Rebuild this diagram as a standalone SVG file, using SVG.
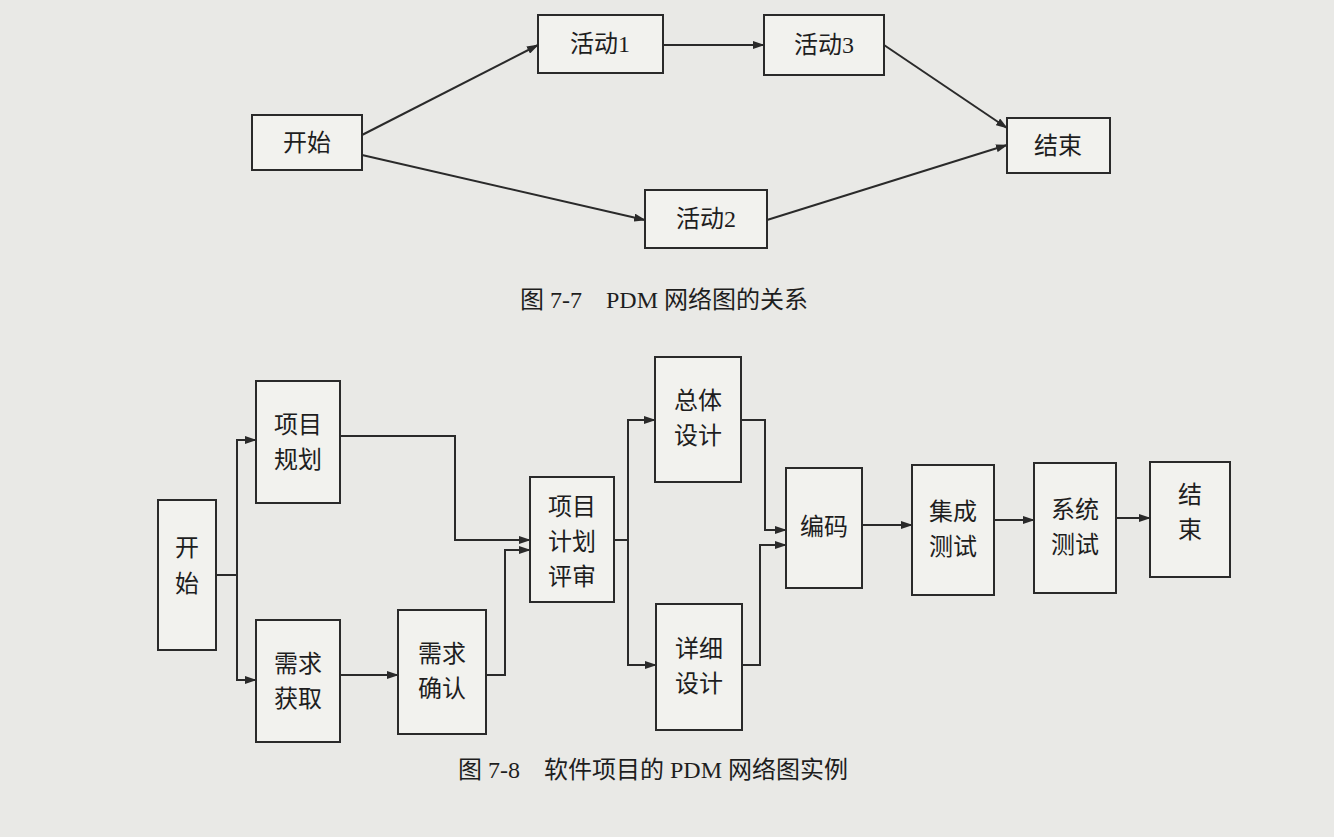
<svg xmlns="http://www.w3.org/2000/svg" width="1334" height="837" viewBox="0 0 1334 837">
<defs>
<marker id="ah" markerWidth="12" markerHeight="8" refX="11" refY="4" orient="auto" markerUnits="userSpaceOnUse"><path d="M0,0 L12,4 L0,8 z" fill="#2a2a2a"/></marker>
<style>
.n{fill:#f2f2ee;stroke:#2a2a2a;stroke-width:2}
.t{font-family:"Liberation Serif","Noto Sans CJK SC",serif;font-size:24px;fill:#1e1e1e;text-anchor:middle}
.c path{fill:none;stroke:#2a2a2a;stroke-width:2;marker-end:url(#ah)}
.cap{font-family:"Liberation Serif","Noto Sans CJK SC",serif;font-size:24px;fill:#1e1e1e}
</style>
</defs>
<rect width="1334" height="837" fill="#e9e9e6"/>
<g id="f7-start"><rect class="n" x="252" y="115" width="110" height="55"/><text class="t" x="307" y="151">开始</text></g>
<g id="f7-a1"><rect class="n" x="538" y="15" width="125" height="58"/><text class="t" x="600" y="52">活动1</text></g>
<g id="f7-a3"><rect class="n" x="764" y="15" width="120" height="60"/><text class="t" x="824" y="53">活动3</text></g>
<g id="f7-end"><rect class="n" x="1007" y="118" width="103" height="55"/><text class="t" x="1058" y="154">结束</text></g>
<g id="f7-a2"><rect class="n" x="645" y="190" width="122" height="58"/><text class="t" x="706" y="227">活动2</text></g>
<text class="cap" x="520" y="308">图 7-7　PDM 网络图的关系</text>

<g id="f8-start"><rect class="n" x="158" y="500" width="58" height="150"/><text class="t" x="187" y="556">开</text><text class="t" x="187" y="592">始</text></g>
<g id="f8-plan"><rect class="n" x="256" y="381" width="84" height="122"/><text class="t" x="298" y="433">项目</text><text class="t" x="298" y="468">规划</text></g>
<g id="f8-req"><rect class="n" x="256" y="620" width="84" height="122"/><text class="t" x="298" y="672">需求</text><text class="t" x="298" y="707">获取</text></g>
<g id="f8-conf"><rect class="n" x="398" y="610" width="88" height="124"/><text class="t" x="442" y="662">需求</text><text class="t" x="442" y="697">确认</text></g>
<g id="f8-review"><rect class="n" x="530" y="477" width="84" height="125"/><text class="t" x="572" y="515">项目</text><text class="t" x="572" y="550">计划</text><text class="t" x="572" y="585">评审</text></g>
<g id="f8-hld"><rect class="n" x="655" y="357" width="86" height="125"/><text class="t" x="698" y="409">总体</text><text class="t" x="698" y="444">设计</text></g>
<g id="f8-dd"><rect class="n" x="656" y="604" width="86" height="126"/><text class="t" x="699" y="657">详细</text><text class="t" x="699" y="692">设计</text></g>
<g id="f8-code"><rect class="n" x="786" y="468" width="76" height="120"/><text class="t" x="824" y="535">编码</text></g>
<g id="f8-it"><rect class="n" x="912" y="465" width="82" height="130"/><text class="t" x="953" y="520">集成</text><text class="t" x="953" y="555">测试</text></g>
<g id="f8-st"><rect class="n" x="1034" y="463" width="82" height="130"/><text class="t" x="1075" y="518">系统</text><text class="t" x="1075" y="553">测试</text></g>
<g id="f8-end"><rect class="n" x="1150" y="462" width="80" height="115"/><text class="t" x="1190" y="503">结</text><text class="t" x="1190" y="538">束</text></g>
<text class="cap" x="458" y="778">图 7-8　软件项目的 PDM 网络图实例</text>

<g id="connectors" class="c">
<path d="M362,135 L538,45"/>
<path d="M663,45 L764,45"/>
<path d="M884,45 L1007,128"/>
<path d="M362,155 L645,220"/>
<path d="M767,220 L1007,145"/>
<path d="M216,575 H237 V440 H256"/>
<path d="M237,575 V680 H256"/>
<path d="M340,436 H455 V540 H530"/>
<path d="M340,675 H398"/>
<path d="M486,675 H505 V550 H530"/>
<path d="M614,540 H628 V420 H655"/>
<path d="M628,540 V665 H656"/>
<path d="M741,420 H765 V530 H786"/>
<path d="M742,665 H760 V545 H786"/>
<path d="M862,525 H912"/>
<path d="M994,520 H1034"/>
<path d="M1116,518 H1150"/>
</g>
</svg>
